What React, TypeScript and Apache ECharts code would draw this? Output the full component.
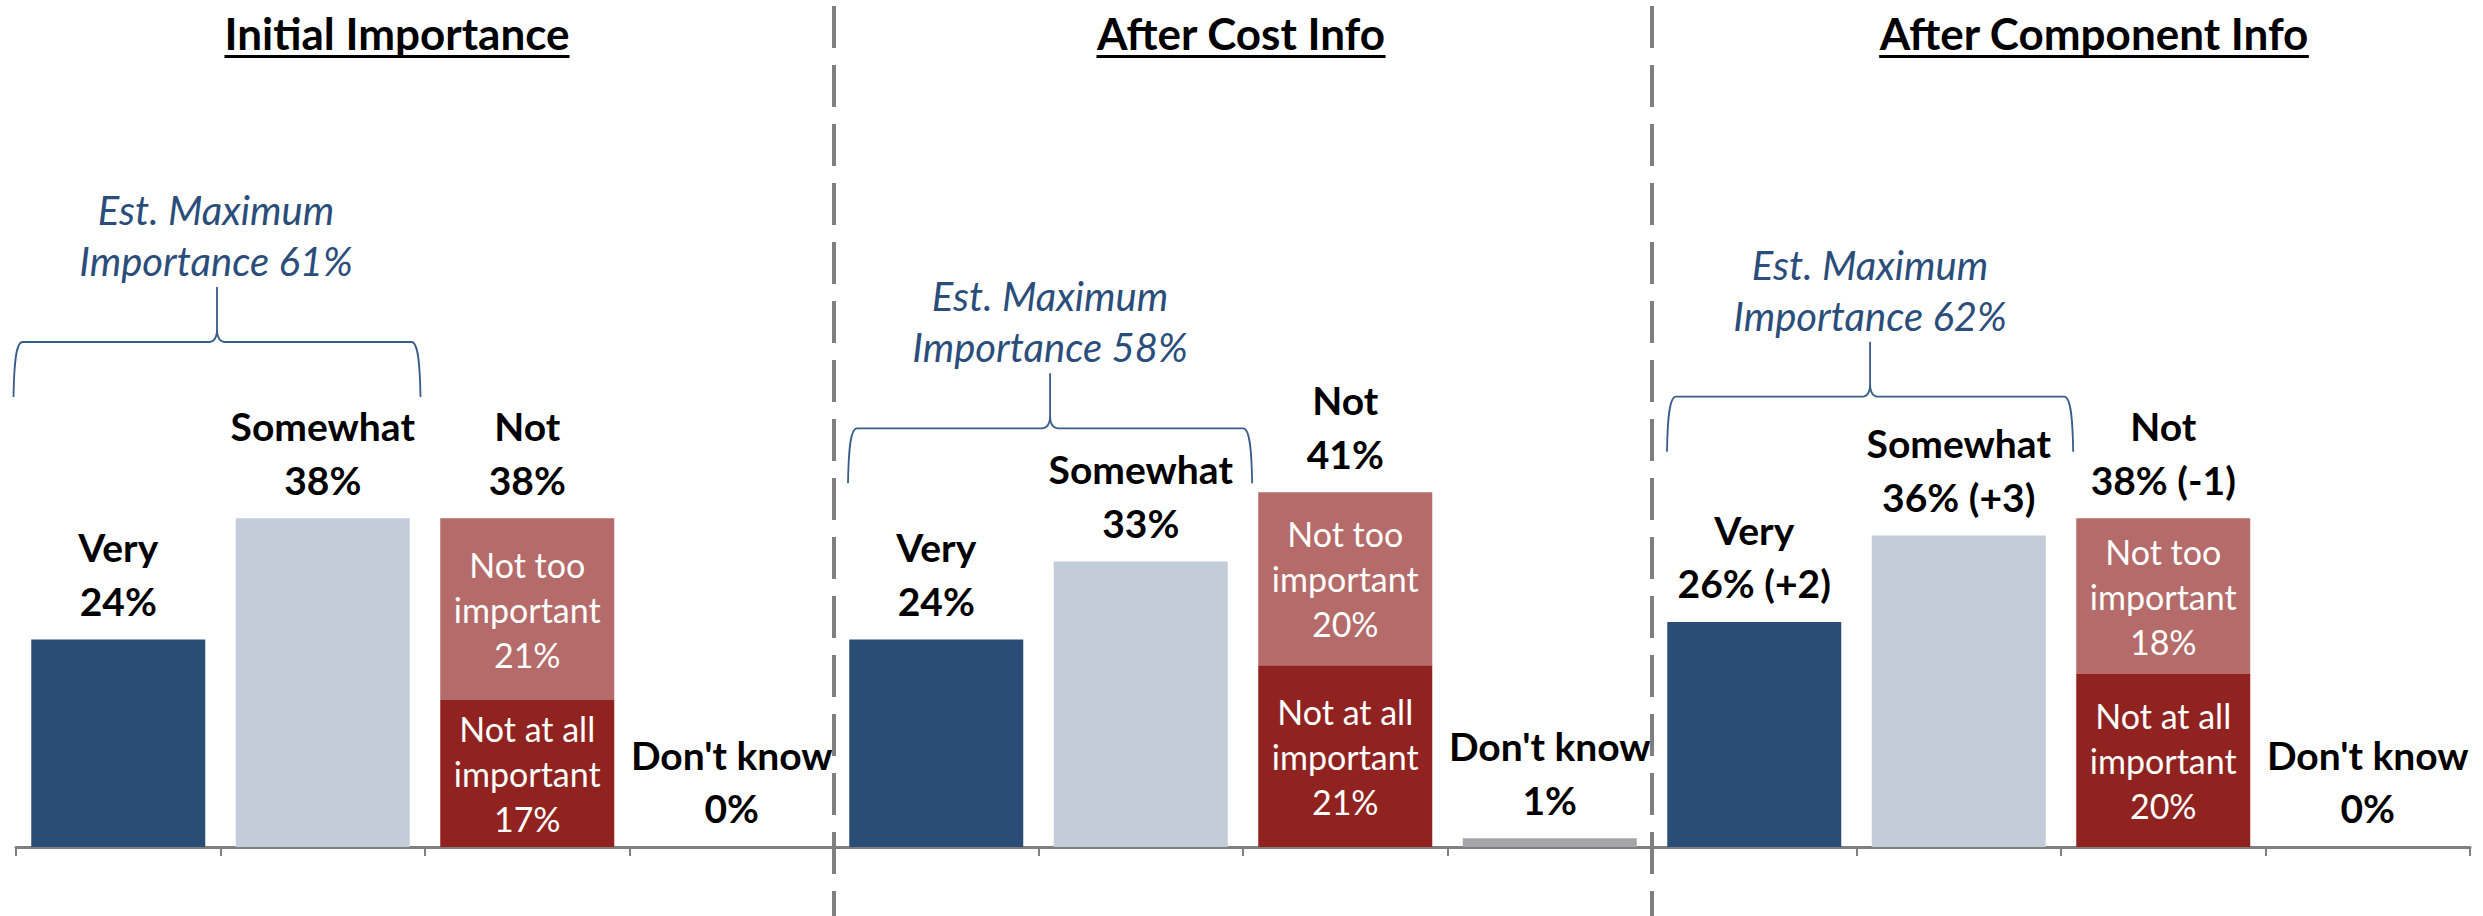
import React, { useEffect, useRef } from "react";
import * as echarts from "echarts";

// ---- data ----
const categories = ["Very", "Somewhat", "Not", "Don't know"];
const panelTitles = ["Initial Importance", "After Cost Info", "After Component Info"];
const veryValues = [24, 24, 26];
const somewhatValues = [38, 33, 36];
const notTooValues = [21, 20, 18];
const notAtAllValues = [17, 21, 20];
const dontKnowValues = [0, 1, 0];
const veryChange: (number | null)[] = [null, null, 2];
const somewhatChange: (number | null)[] = [null, null, 3];
const notChange: (number | null)[] = [null, null, -1];
const maxImportance = [61, 58, 62];

// ---- styling / layout ----
const FONT = "Lato, 'Noto Sans', sans-serif";
const COLORS = {
  very: "#2A4D76",
  somewhat: "#C4CBD9",
  notToo: "#B46B69",
  notAtAll: "#902320",
  dk: "#A6A6A8",
  axis: "#7F7F7F",
  annot: "#2A4D7A",
  brace: "#385D8A",
};
const panelLeft = [16, 834, 1652];
const panelWidth = 818;
const titleCenterX = [397, 1241, 2094];
const titleSize = 44;
const titleBaseline = 50;
const annotSize = 40;
const annotPos = [
  [216, 225],
  [1050, 311.7],
  [1870, 280],
];
const braceBox = [
  [13.5, 287, 407],
  [848, 373.3, 404],
  [1667, 341.7, 406],
];
const BRACE_D =
  "M0,110 C0.5,80 2,55 9,55 L195,55 Q203.5,55 203.5,42 L203.5,0 M203.5,42 Q203.5,55 212,55 L398,55 C405,55 406.5,80 407,110";

let braceRegistered = false;

function fmtChange(c: number | null) {
  if (c === null || c === undefined) return "";
  return c > 0 ? ` (+${c})` : ` (${c})`;
}

function measure(text: string, font: string) {
  const ctx = document.createElement("canvas").getContext("2d");
  if (!ctx) return text.length * 20;
  ctx.font = font;
  return ctx.measureText(text).width;
}

export default function App() {
  const ref = useRef<HTMLDivElement>(null);

  useEffect(() => {
    document.body.style.margin = "0";
    if (!braceRegistered) {
      echarts.graphic.registerShape("brace", echarts.graphic.extendPath(BRACE_D, {}) as any);
      braceRegistered = true;
    }
    const chart = echarts.init(ref.current!, null, { renderer: "svg" });

    const grids: any[] = [];
    const xAxes: any[] = [];
    const yAxes: any[] = [];
    const series: any[] = [];
    const graphics: any[] = [];

    const topLabel = {
      show: true,
      position: "top",
      distance: 12,
      color: "#000",
      fontFamily: FONT,
      fontWeight: "bold",
      fontSize: 39,
      lineHeight: 53.5,
    };
    const insideLabel = {
      show: true,
      position: "inside",
      color: "#fff",
      fontFamily: FONT,
      fontWeight: "normal",
      fontSize: 34,
      lineHeight: 45,
    };

    for (let g = 0; g < 3; g++) {
      grids.push({ left: panelLeft[g], width: panelWidth, top: 155, bottom: 69 });
      xAxes.push({
        type: "category",
        gridIndex: g,
        data: categories,
        axisLine: { show: true, lineStyle: { color: COLORS.axis, width: 3 } },
        axisTick: { show: true, length: 9, lineStyle: { color: COLORS.axis, width: 2 } },
        axisLabel: { show: false },
        splitLine: { show: false },
      });
      yAxes.push({
        type: "value",
        gridIndex: g,
        min: 0,
        max: 80,
        show: false,
        splitLine: { show: false },
      });

      const total = notTooValues[g] + notAtAllValues[g];
      const mainTexts = [
        `Very\n${veryValues[g]}%${fmtChange(veryChange[g])}`,
        `Somewhat\n${somewhatValues[g]}%${fmtChange(somewhatChange[g])}`,
        `Not at all\nimportant\n${notAtAllValues[g]}%`,
        `Don't know\n${dontKnowValues[g]}%`,
      ];
      series.push({
        type: "bar",
        name: `main${g}`,
        xAxisIndex: g,
        yAxisIndex: g,
        stack: `s${g}`,
        barWidth: 174,
        silent: true,
        label: { ...topLabel, formatter: (p: any) => mainTexts[p.dataIndex] },
        data: [
          { value: veryValues[g], itemStyle: { color: COLORS.very } },
          { value: somewhatValues[g], itemStyle: { color: COLORS.somewhat } },
          { value: notAtAllValues[g], itemStyle: { color: COLORS.notAtAll }, label: insideLabel },
          { value: dontKnowValues[g], itemStyle: { color: COLORS.dk } },
        ],
      });
      series.push({
        type: "bar",
        name: `notToo${g}`,
        xAxisIndex: g,
        yAxisIndex: g,
        stack: `s${g}`,
        barWidth: 174,
        silent: true,
        itemStyle: { color: COLORS.notToo },
        label: { ...insideLabel, formatter: () => `Not too\nimportant\n${notTooValues[g]}%` },
        data: ["-", "-", notTooValues[g], "-"],
      });
      series.push({
        type: "bar",
        name: `notTotal${g}`,
        xAxisIndex: g,
        yAxisIndex: g,
        stack: `s${g}`,
        barWidth: 174,
        silent: true,
        itemStyle: { color: COLORS.notToo },
        label: { ...topLabel, formatter: () => `Not\n${total}%${fmtChange(notChange[g])}` },
        data: ["-", "-", 0, "-"],
      });

      // title + underline
      const tFont = `bold ${titleSize}px ${FONT}`;
      const tw = measure(panelTitles[g], tFont);
      graphics.push({
        type: "text",
        x: titleCenterX[g],
        y: titleBaseline - 0.387 * titleSize,
        silent: true,
        style: {
          text: panelTitles[g],
          font: tFont,
          fill: "#000",
          textAlign: "center",
          align: "center",
          textVerticalAlign: "middle",
          verticalAlign: "middle",
        },
      });
      graphics.push({
        type: "rect",
        silent: true,
        shape: { x: titleCenterX[g] - tw / 2, y: 55, width: tw, height: 3 },
        style: { fill: "#000" },
      });

      // annotation
      const aFont = `italic ${annotSize}px ${FONT}`;
      const lines = ["Est. Maximum", `Importance ${maxImportance[g]}%`];
      lines.forEach((ln, i) => {
        graphics.push({
          type: "text",
          x: annotPos[g][0],
          y: annotPos[g][1] + i * 51 - 0.387 * annotSize,
          silent: true,
          style: {
            text: ln,
            font: aFont,
            fill: COLORS.annot,
            textAlign: "center",
            align: "center",
            textVerticalAlign: "middle",
            verticalAlign: "middle",
          },
        });
      });

      // brace
      const [bx, by, bw] = braceBox[g];
      graphics.push({
        type: "brace",
        x: bx,
        y: by,
        scaleX: bw / 407,
        scaleY: 1,
        silent: true,
        style: { fill: "none", stroke: COLORS.brace, lineWidth: 1.8 },
      });
    }

    // dashed separators
    [834, 1652].forEach((x) => {
      graphics.push({
        type: "line",
        silent: true,
        shape: { x1: x, y1: 6, x2: x, y2: 916 },
        style: { stroke: COLORS.axis, lineWidth: 4, lineDash: [42, 17] },
        z: 10,
      });
    });

    chart.setOption({
      animation: false,
      backgroundColor: "#fff",
      grid: grids,
      xAxis: xAxes,
      yAxis: yAxes,
      series,
      graphic: { elements: graphics },
    });

    return () => chart.dispose();
  }, []);

  return (
    <div
      ref={ref}
      style={{ position: "absolute", left: 0, top: 0, width: 2483, height: 916, background: "#fff" }}
    />
  );
}
